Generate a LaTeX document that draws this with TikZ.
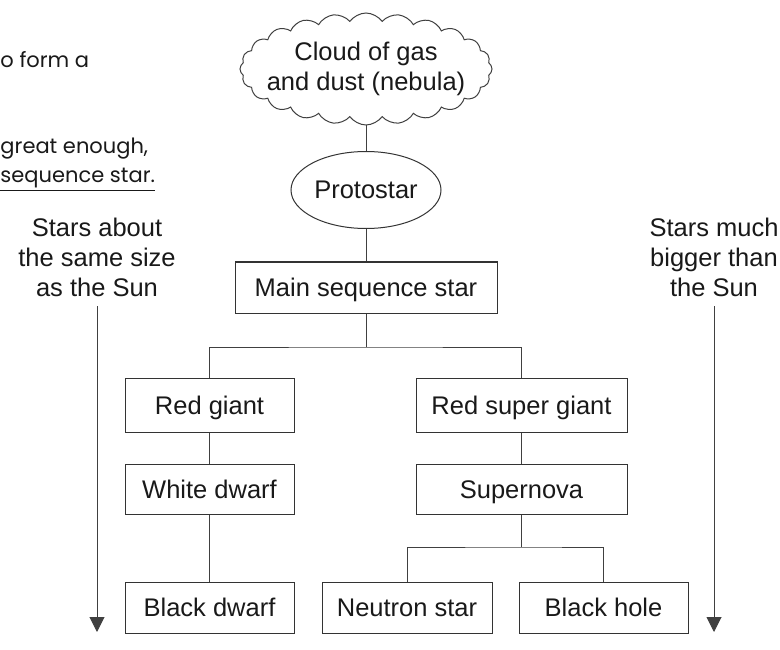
\documentclass[tikz,border=0pt]{standalone}
\usepackage{fontspec}
\setmainfont{Liberation Sans}
\newfontfamily\notefont{Poppins}
\usetikzlibrary{arrows.meta,shapes.geometric,shapes.symbols}

\begin{document}
\begin{tikzpicture}[x=1pt,y=-1pt,>={Triangle[length=15pt,width=15pt]},line width=1pt,
		every node/.style={font=\fontsize{25.5}{30}\selectfont,text=black!90},
		note/.style={anchor=base west,inner sep=0pt,font=\notefont\fontsize{21}{25}\selectfont},
		stage/.style={draw=black!80,rectangle,minimum height=51pt,inner sep=0pt,text height=18pt,text depth=0pt},
		link/.style={draw=black!75},
		sizearrow/.style={draw=black!75,->}]
		\useasboundingbox (0,0) rectangle (780,650);
		
		% notes (cut off on the left)
		\node[note] (noteA) at (0,68) {o form a};
		\node[note] (noteB) at (0,154) {great enough,};
		\node[note] (noteC) at (0,183) {\underline{sequence star.}};
		
		% stages
		\node[draw=black!75,cloud,cloud puffs=24,cloud puff arc=110,aspect=2.25,minimum width=252pt,minimum height=112pt,inner sep=0pt,
			label={[align=center]center:{Cloud of gas\\and dust (nebula)}}] (nebula) at (366,69) {};
		\node[draw=black!80,ellipse,minimum width=150pt,minimum height=77pt,inner sep=0pt,text height=18pt,text depth=0pt] (proto) at (366,190) {Protostar};
		\node[stage,minimum width=262pt] (main) at (366,287.5) {Main sequence star};
		\node[stage,minimum width=169pt,minimum height=54pt] (redgiant) at (209.5,405) {Red giant};
		\node[stage,minimum width=169pt,minimum height=50pt] (whitedwarf) at (209.5,489) {White dwarf};
		\node[stage,minimum width=169pt] (blackdwarf) at (209.5,607.5) {Black dwarf};
		\node[stage,minimum width=211pt,minimum height=54pt] (redsuper) at (521.5,405) {Red super giant};
		\node[stage,minimum width=211pt,minimum height=50pt] (supernova) at (521.5,489) {Supernova};
		\node[stage,minimum width=170pt] (neutron) at (407,607.5) {Neutron star};
		\node[stage,minimum width=169pt] (blackhole) at (603.5,607.5) {Black hole};
		
		% connectors
		\coordinate (split) at (366,347);
		\coordinate (burst) at (521.5,547);
		\draw[link] (nebula) -- (proto);
		\draw[link] (proto) -- (main);
		\draw[link] (main) -- (split);
		\draw[link] (redgiant.north) |- (split) -| (redsuper.north);
		\draw[link] (redgiant) -- (whitedwarf);
		\draw[link] (whitedwarf) -- (blackdwarf);
		\draw[link] (redsuper) -- (supernova);
		\draw[link] (supernova) -- (burst);
		\draw[link] (neutron.north) |- (burst) -| (blackhole.north);
		
		% size of the star
		\node[align=center] (smallstars) at (97,257) {Stars about\\the same size\\as the Sun};
		\node[align=center] (bigstars) at (714,257) {Stars much\\bigger than\\the Sun};
		\coordinate (smallend) at (97,632);
		\coordinate (bigend) at (714,632);
		\draw[sizearrow] ([yshift=-6pt]smallstars.south) -- (smallend);
		\draw[sizearrow] ([yshift=-6pt]bigstars.south) -- (bigend);
	\end{tikzpicture}
\end{document}
